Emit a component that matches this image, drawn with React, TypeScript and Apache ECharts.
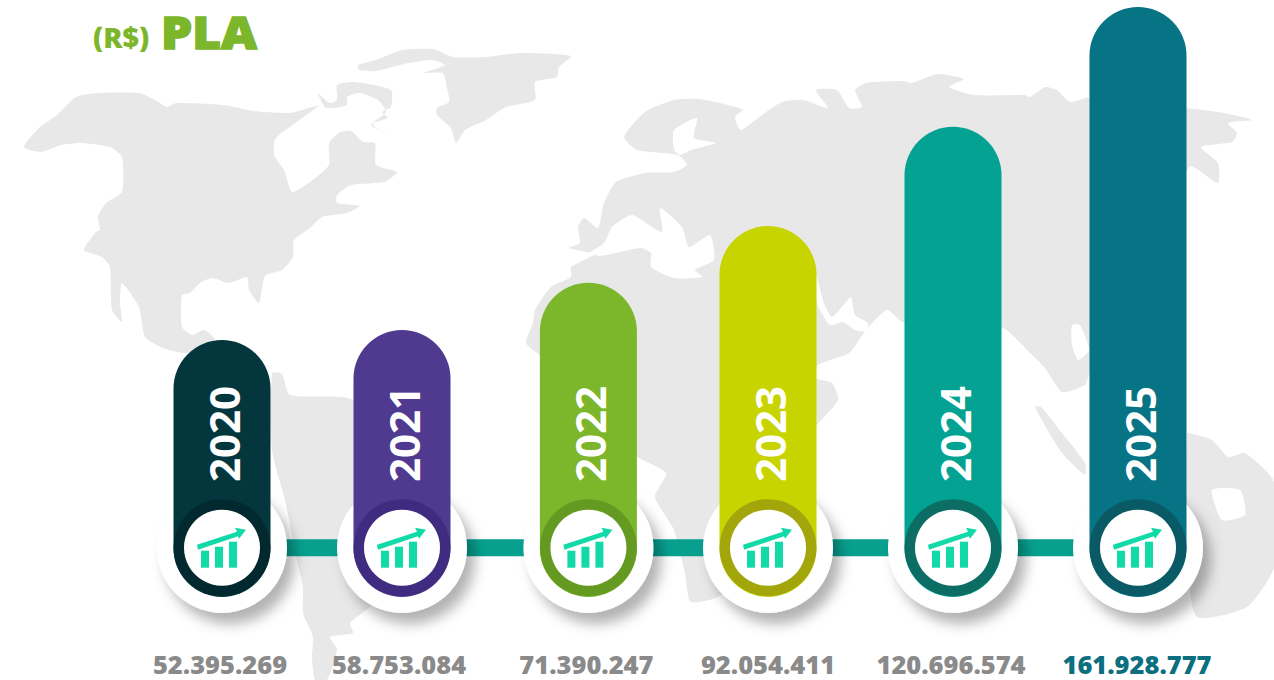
import React, { useEffect, useRef } from "react";
import * as echarts from "echarts";

// Categories, printed values and the bar levels (millions)
const years = ["2020", "2021", "2022", "2023", "2024", "2025"];
const printedValues = ["52.395.269", "58.753.084", "71.390.247", "92.054.411", "120.696.574", "161.928.777"];
const barLevels = [52.3, 55.6, 71.1, 89.8, 122.4, 161.8];
const barColors = ["#03363d", "#4f3a90", "#7cb62a", "#c8d400", "#03a292", "#067484"];
const ringColors = ["#02292f", "#3f2c80", "#659a22", "#a3a60a", "#0b6d64", "#0a5a66"];
const labelColors = ["#8a8a8a", "#8a8a8a", "#8a8a8a", "#8a8a8a", "#8a8a8a", "#0b6f80"];

// Layout constants
const AXIS_MIN = -59.5, AXIS_MAX = 164.1, BAR_BASE = -32.2, HUB_LEVEL = -16;
const BAR_R = 48.5, HOLE_R = 38, DISC_R = 65;
const nudge = [0, -3.2, 0, -3.6, -1.8, 0];
const labelShift = [-2, -3, -2, 0, -2, -1];
const FONT = '"Open Sans", sans-serif';
const MAP = "#e8e8e8";

const continents: number[][][] = [
  // North America
  [[24,147],[39,128],[57,115],[76,97],[98,93],[139,93],[155,100],[167,107],[176,103],[224,105],[253,111],[290,113],[318,106],[276,138],[274,155],[284,170],[292,192],[310,182],[329,165],[329,143],[339,133],[351,131],[363,142],[375,143],[376,165],[397,172],[384,182],[351,185],[337,195],[337,203],[360,206],[347,213],[322,217],[310,228],[294,240],[293,257],[282,270],[265,276],[259,303],[249,290],[247,277],[229,283],[212,278],[200,283],[190,293],[182,295],[182,327],[192,335],[204,330],[214,338],[214,352],[184,353],[163,348],[145,337],[139,307],[122,283],[120,303],[122,322],[112,310],[110,267],[102,257],[84,250],[96,232],[100,230],[98,217],[106,203],[122,192],[122,157],[110,147],[82,143],[61,145],[41,152]],
  // Baffin
  [[318,93],[329,103],[337,100],[337,85],[355,82],[391,90],[391,107],[382,112],[388,118],[373,123],[376,128],[390,135],[371,125],[386,112],[378,100],[359,93],[347,97],[347,105],[326,108]],
  // Greenland
  [[358,65],[376,60],[402,50],[433,49],[453,57],[486,57],[522,53],[571,56],[559,67],[557,77],[535,82],[535,100],[506,107],[486,120],[465,130],[456,143],[451,128],[437,115],[437,108],[449,102],[447,88],[443,73],[424,73],[445,65],[433,60],[408,63],[376,71],[359,70]],
  // South America
  [[272,373],[282,374],[290,395],[353,400],[420,480],[420,560],[370,607],[350,623],[353,633],[330,637],[337,650],[327,680],[315,680],[312,657],[313,637],[303,613],[303,587],[297,560],[285,500],[272,450]],
  // Eurasia and Africa
  [[624,137],[645,112],[674,100],[699,99],[728,105],[743,110],[735,117],[741,130],[762,115],[782,102],[803,100],[828,108],[816,90],[837,90],[849,108],[862,107],[855,90],[866,83],[903,81],[912,83],[937,74],[964,79],[949,87],[974,95],[1024,95],[1030,97],[1045,87],[1057,90],[1070,102],[1091,97],[1187,108],[1224,113],[1252,120],[1228,123],[1237,133],[1232,142],[1201,147],[1218,163],[1218,183],[1189,167],[1130,330],[1090,373],[1085,385],[1062,392],[1045,368],[1030,353],[1001,327],[903,322],[887,310],[866,330],[849,353],[818,365],[816,378],[832,383],[838,400],[817,425],[760,500],[724,593],[691,602],[685,573],[674,530],[655,497],[666,473],[637,457],[560,400],[541,357],[526,343],[533,323],[535,310],[551,287],[571,277],[571,267],[596,254],[588,252],[569,248],[580,243],[578,227],[584,218],[598,228],[604,203],[616,182],[645,173],[674,172],[687,165],[678,155],[637,150]],
  // Sumatra strip
  [[1035,407],[1041,407],[1062,433],[1085,463],[1085,475],[1062,453]],
  // Australia
  [[1189,433],[1212,440],[1228,457],[1245,453],[1274,482],[1274,567],[1247,607],[1197,617],[1187,560],[1187,433]],
];
const seas: number[][][] = [
  [[674,150],[674,130],[697,118],[694,138],[716,143],[691,150],[680,155]],
  [[590,253],[604,243],[612,227],[632,215],[662,232],[660,208],[682,227],[689,247],[710,235],[714,260],[695,270],[703,277],[674,278],[651,267],[651,253],[641,248],[620,252],[600,256]],
  [[816,275],[824,303],[832,317],[845,303],[851,297],[855,315],[868,323],[866,331],[855,330],[843,322],[830,325],[820,310],[816,300]],
  [[1072,325],[1080,325],[1089,350],[1078,360],[1072,345]],
  [[1212,490],[1240,490],[1245,515],[1222,520]],
];

const mapGraphics = [
  ...continents.map((points) => ({ type: "polygon", z: 0, silent: true, shape: { points, smooth: 0.2 }, style: { fill: MAP } })),
  ...seas.map((points) => ({ type: "polygon", z: 0, silent: true, shape: { points, smooth: 0.2 }, style: { fill: "#ffffff" } })),
];

const titleGraphics = [
  { type: "text", z: 1, x: 93, y: 37, scaleX: 1.02, style: { text: "(R$)", font: `800 28px ${FONT}`, fill: "#7cb62a", align: "left", verticalAlign: "middle" } },
  { type: "text", z: 1, x: 161, y: 31, scaleX: 1.1, style: { text: "PLA", font: `800 45px ${FONT}`, fill: "#7cb62a", stroke: "#7cb62a", lineWidth: 1.5, align: "left", verticalAlign: "middle" } },
];

function renderConnector(_params: any, api: any) {
  const i = api.value(0);
  if (i >= years.length - 1) return { type: "group", children: [] };
  const a = api.coord([i, HUB_LEVEL]);
  const b = api.coord([i + 1, HUB_LEVEL]);
  return {
    type: "rect",
    shape: { x: a[0] + nudge[i], y: a[1] - 8.5, width: b[0] + nudge[i + 1] - a[0] - nudge[i], height: 17 },
    style: { fill: "#07a08f" },
  };
}

function renderPill(_params: any, api: any) {
  const i = api.value(0);
  const top = api.coord([i, api.value(1)]);
  const base = api.coord([i, BAR_BASE]);
  const hub = api.coord([i, HUB_LEVEL]);
  const cx = top[0] + nudge[i];
  const cy = hub[1];
  const icon = "#12d9a8";
  return {
    type: "group",
    children: [
      { type: "circle", shape: { cx, cy, r: DISC_R }, style: { fill: "#ffffff", shadowBlur: 13, shadowOffsetX: 8, shadowOffsetY: 11, shadowColor: "rgba(0,0,0,0.3)" } },
      { type: "rect", shape: { x: cx - BAR_R, y: top[1], width: BAR_R * 2, height: base[1] - top[1], r: BAR_R }, style: { fill: barColors[i] } },
      { type: "circle", shape: { cx, cy, r: BAR_R }, style: { fill: ringColors[i] } },
      { type: "circle", shape: { cx, cy, r: HOLE_R }, style: { fill: "#ffffff" } },
      { type: "rect", shape: { x: cx - 21, y: cy + 3, width: 8, height: 17 }, style: { fill: icon } },
      { type: "rect", shape: { x: cx - 7, y: cy - 1, width: 8, height: 21 }, style: { fill: icon } },
      { type: "rect", shape: { x: cx + 7, y: cy - 6, width: 8, height: 26 }, style: { fill: icon } },
      { type: "polygon", shape: { points: [[cx - 25, cy - 3], [cx + 15, cy - 16], [cx + 13, cy - 20], [cx + 24, cy - 18], [cx + 17, cy - 9], [cx + 16, cy - 11.5], [cx - 24, cy + 2]] }, style: { fill: icon } },
      { type: "text", x: cx + 1.5, y: 482, rotation: Math.PI / 2, style: { text: years[i], font: `700 42px ${FONT}`, fill: "#ffffff", align: "left", verticalAlign: "middle" } },
      { type: "text", x: cx + labelShift[i], y: 664, scaleX: 1.04, style: { text: printedValues[i], font: `800 24.5px ${FONT}`, fill: labelColors[i], align: "center", verticalAlign: "middle" } },
    ],
  };
}

export default function App() {
  const ref = useRef<HTMLDivElement>(null);
  useEffect(() => {
    document.body.style.margin = "0";
    const chart = echarts.init(ref.current!, undefined, { renderer: "svg" });
    const data = years.map((_, i) => [i, barLevels[i]]);
    chart.setOption({
      animation: false,
      backgroundColor: "#ffffff",
      grid: { left: 130.4, right: 44.4, top: 0, bottom: 0 },
      xAxis: { type: "category", data: years, show: false },
      yAxis: { type: "value", min: AXIS_MIN, max: AXIS_MAX, show: false },
      graphic: { elements: [...mapGraphics, ...titleGraphics] },
      tooltip: { show: false },
      series: [
        { type: "custom", name: "links", z: 2, clip: false, silent: true, data, encode: { x: 0, y: 1 }, renderItem: renderConnector },
        { type: "custom", name: "PLA", z: 3, clip: false, silent: true, data, encode: { x: 0, y: 1 }, renderItem: renderPill },
      ],
    });
    return () => chart.dispose();
  }, []);
  return <div ref={ref} style={{ width: 1274, height: 680 }} />;
}
